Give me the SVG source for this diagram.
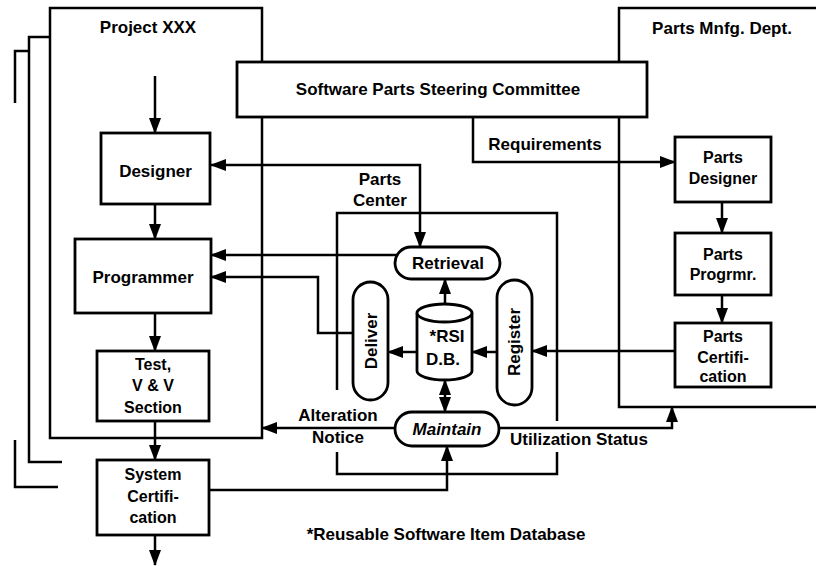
<svg xmlns="http://www.w3.org/2000/svg" width="816" height="566" viewBox="0 0 816 566">
<defs>
<style>
.ln{fill:none;stroke:#000;stroke-width:2.5;stroke-linejoin:miter}
.bx{fill:#fff;stroke:#000;stroke-width:2.8}
.t{font-family:"Liberation Sans",Arial,sans-serif;font-weight:bold;font-size:16px;fill:#000;text-anchor:middle}
.tl{font-size:17px}
.ts{font-size:15px}
</style>
<marker id="ah" viewBox="0 0 16 12" refX="15" refY="6" markerWidth="16" markerHeight="12" markerUnits="userSpaceOnUse" orient="auto-start-reverse">
<path d="M0,0 L16,6 L0,12 Z" fill="#000"/>
</marker>
</defs>
<rect width="816" height="566" fill="#fff"/>

<g id="containers">
<path class="ln" d="M50,37 H29 V462 H62"/>
<path class="ln" d="M29,51 H15 V103 M15,440 V487 H58"/>
<rect id="project" class="ln" x="50" y="8" width="212" height="430"/>
<path id="partsmnfg" class="ln" d="M820,8 H619 V407 H820"/>
<path id="partscenter" class="ln" d="M337,390 V213 H557 V421 M337,452 V474 H557 V452"/>
</g>

<g id="labels">
<text class="t tl" x="148" y="33">Project XXX</text>
<text class="t tl" x="722" y="34">Parts Mnfg. Dept.</text>
<text class="t tl" x="380" y="185">Parts</text>
<text class="t tl" x="380" y="206">Center</text>
<text class="t tl" x="545" y="150">Requirements</text>
<text class="t tl" x="338" y="421">Alteration</text>
<text class="t tl" x="338" y="443">Notice</text>
<text class="t tl" x="579" y="445">Utilization Status</text>
<text class="t tl" x="446" y="540">*Reusable Software Item Database</text>
</g>

<g id="connectors">
<path class="ln" marker-end="url(#ah)" d="M155,76 V133"/>
<path class="ln" marker-end="url(#ah)" d="M155,204 V239"/>
<path class="ln" marker-end="url(#ah)" d="M155,313 V351"/>
<path class="ln" marker-end="url(#ah)" d="M155,421 V460"/>
<path class="ln" marker-end="url(#ah)" d="M155,535 V565"/>
<path class="ln" marker-start="url(#ah)" marker-end="url(#ah)" d="M211,165 H420 V247"/>
<path class="ln" marker-end="url(#ah)" d="M398,255 H211"/>
<path class="ln" marker-end="url(#ah)" d="M353,333 H318 V277 H211"/>
<path class="ln" marker-end="url(#ah)" d="M445,305 V279"/>
<path class="ln" marker-end="url(#ah)" d="M417,352 H388"/>
<path class="ln" marker-end="url(#ah)" d="M497,352 H472"/>
<path class="ln" marker-end="url(#ah)" d="M675,351 H532"/>
<path class="ln" marker-start="url(#ah)" marker-end="url(#ah)" d="M445,380 V412"/>
<path class="ln" marker-end="url(#ah)" d="M395,428 H262"/>
<path class="ln" marker-end="url(#ah)" d="M499,428 H672 V407"/>
<path class="ln" marker-end="url(#ah)" d="M209,490 H447 V446"/>
<path class="ln" marker-end="url(#ah)" d="M473,117 V162 H675"/>
<path class="ln" marker-end="url(#ah)" d="M722,202 V233"/>
<path class="ln" marker-end="url(#ah)" d="M722,295 V323"/>
</g>

<g id="steering">
<rect class="bx" x="237" y="62" width="410" height="55"/>
<text class="t tl" x="438" y="95">Software Parts Steering Committee</text>
</g>

<g id="designer">
<rect class="bx" x="101" y="133" width="109" height="71"/>
<text class="t tl" x="155.5" y="177">Designer</text>
</g>
<g id="programmer">
<rect class="bx" x="75" y="239" width="136" height="74"/>
<text class="t tl" x="143" y="283">Programmer</text>
</g>
<g id="test">
<rect class="bx" x="97" y="351" width="112" height="70"/>
<text class="t" x="153" y="370">Test,</text>
<text class="t" x="153" y="391">V &amp; V</text>
<text class="t" x="153" y="413">Section</text>
</g>
<g id="syscert">
<rect class="bx" x="97" y="460" width="112" height="75"/>
<text class="t" x="153" y="480">System</text>
<text class="t" x="153" y="502">Certifi-</text>
<text class="t" x="153" y="523">cation</text>
</g>

<g id="partsdesigner">
<rect class="bx" x="675" y="137" width="96" height="65"/>
<text class="t" x="723" y="163">Parts</text>
<text class="t" x="723" y="184">Designer</text>
</g>
<g id="partsprogrmr">
<rect class="bx" x="675" y="233" width="96" height="62"/>
<text class="t" x="723" y="260">Parts</text>
<text class="t" x="723" y="280">Progrmr.</text>
</g>
<g id="partscert">
<rect class="bx" x="675" y="323" width="96" height="64"/>
<text class="t" x="723" y="342">Parts</text>
<text class="t" x="723" y="363">Certifi-</text>
<text class="t" x="723" y="382">cation</text>
</g>

<g id="retrieval">
<rect class="bx" x="395" y="247" width="105" height="32" rx="16"/>
<text class="t tl" x="448" y="269">Retrieval</text>
</g>
<g id="deliver">
<rect class="bx" x="353" y="282" width="35" height="118" rx="17.5"/>
<text class="t tl" transform="translate(377,341) rotate(-90)">Deliver</text>
</g>
<g id="register">
<rect class="bx" x="497" y="280" width="35" height="125" rx="17.5"/>
<text class="t tl" transform="translate(520,342) rotate(-90)">Register</text>
</g>
<g id="rsidb">
<path class="bx" d="M417,313 V371 A27.5,9 0 0 0 472,371 V313"/>
<ellipse class="bx" cx="444.5" cy="313" rx="27.5" ry="9"/>
<text class="t tl" x="447" y="342">*RSI</text>
<text class="t tl" x="443" y="365">D.B.</text>
</g>
<g id="maintain">
<rect class="bx" x="395" y="412" width="104" height="34" rx="17"/>
<text class="t tl" x="447" y="435" font-style="italic">Maintain</text>
</g>
</svg>
